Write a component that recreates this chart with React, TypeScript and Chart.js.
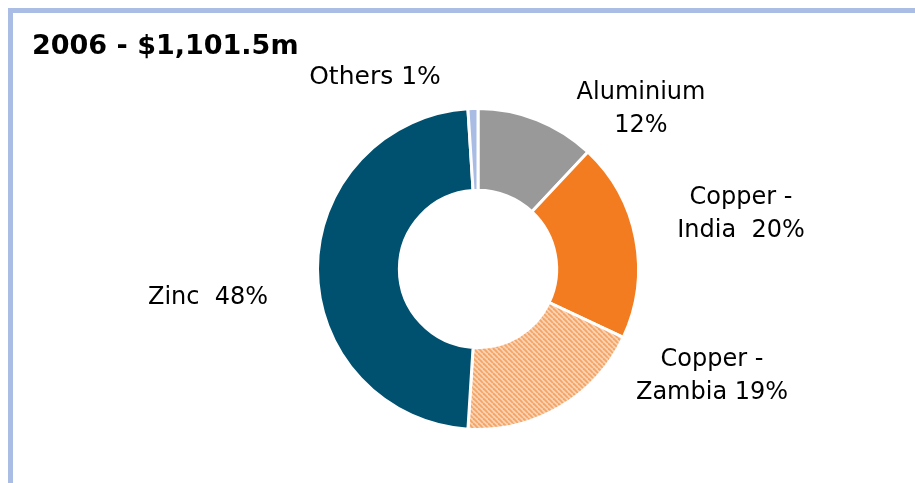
import React, { useEffect, useRef } from "react";
import { Chart, registerables } from "chart.js";

Chart.register(...registerables);

const titleText = "2006 - $1,101.5m";
const categories = ["Aluminium", "Copper - India", "Copper - Zambia", "Zinc", "Others"];
const shares = [12, 20, 19, 48, 1];
const labelLines = [
  ["Aluminium", "12%"],
  ["Copper -", "India  20%"],
  ["Copper -", "Zambia 19%"],
  ["Zinc  48%"],
  ["Others 1%"],
];
// label block centre offsets from the doughnut centre (px)
const labelOffsets = [
  [163, -160],
  [263, -55],
  [234, 107],
  [-270, 29],
  [-103, -192],
];
const solidColors = ["#999999", "#f47c20", null, "#00506f", "#a8bce4"];

function makeHatch(ctx: CanvasRenderingContext2D) {
  const c = document.createElement("canvas");
  c.width = 5;
  c.height = 5;
  const g = c.getContext("2d")!;
  g.fillStyle = "#fbd3b2";
  g.fillRect(0, 0, 5, 5);
  g.strokeStyle = "#f4a466";
  g.lineWidth = 1.8;
  for (let k = -5; k <= 10; k += 5) {
    g.beginPath();
    g.moveTo(k, 0);
    g.lineTo(k + 5, 5);
    g.stroke();
  }
  return ctx.createPattern(c, "repeat")!;
}

const textPlugin = {
  id: "textPlugin",
  afterDraw(chart: any) {
    const ctx = chart.ctx as CanvasRenderingContext2D;
    ctx.save();
    ctx.fillStyle = "#000000";
    ctx.textBaseline = "middle";
    ctx.textAlign = "left";
    ctx.font = "bold 27px 'DejaVu Sans'";
    ctx.fillText(titleText, 19, 34);
    const meta = chart.getDatasetMeta(0);
    const arc = meta.data[0];
    const cx = arc.x;
    const cy = arc.y;
    ctx.textAlign = "center";
    const lh = 33;
    labelLines.forEach((lines, i) => {
      const [dx, dy] = labelOffsets[i];
      const n = lines.length;
      ctx.font = (i === 4 ? "25px" : "24px") + " 'DejaVu Sans'";
      lines.forEach((t, j) => {
        ctx.fillText(t, cx + dx, cy + dy + (j - (n - 1) / 2) * lh);
      });
    });
    ctx.restore();
  },
};

export default function App() {
  const ref = useRef<HTMLCanvasElement>(null);
  useEffect(() => {
    const canvas = ref.current!;
    const ctx = canvas.getContext("2d")!;
    const hatch = makeHatch(ctx);
    const colors = solidColors.map((c) => (c === null ? hatch : c));
    const chart = new Chart(canvas, {
      type: "doughnut",
      data: {
        labels: categories,
        datasets: [
          {
            data: shares,
            backgroundColor: colors as any,
            borderColor: "#ffffff",
            borderWidth: 3,
          },
        ],
      },
      options: {
        animation: false,
        responsive: false,
        cutout: "49%",
        layout: { padding: { left: 303, right: 275, top: 94, bottom: 52 } },
        plugins: {
          legend: { display: false },
          tooltip: { enabled: false },
          title: { display: false },
        },
      },
      plugins: [textPlugin],
    });
    return () => chart.destroy();
  }, []);
  return (
    <div
      style={{
        position: "fixed",
        left: 8,
        top: 8,
        right: 0,
        bottom: 0,
        borderTop: "5px solid #a9bde5",
        borderLeft: "5px solid #a9bde5",
        background: "#ffffff",
        overflow: "hidden",
      }}
    >
      <canvas ref={ref} width={902} height={470} style={{ display: "block", width: 902, height: 470 }} />
    </div>
  );
}
